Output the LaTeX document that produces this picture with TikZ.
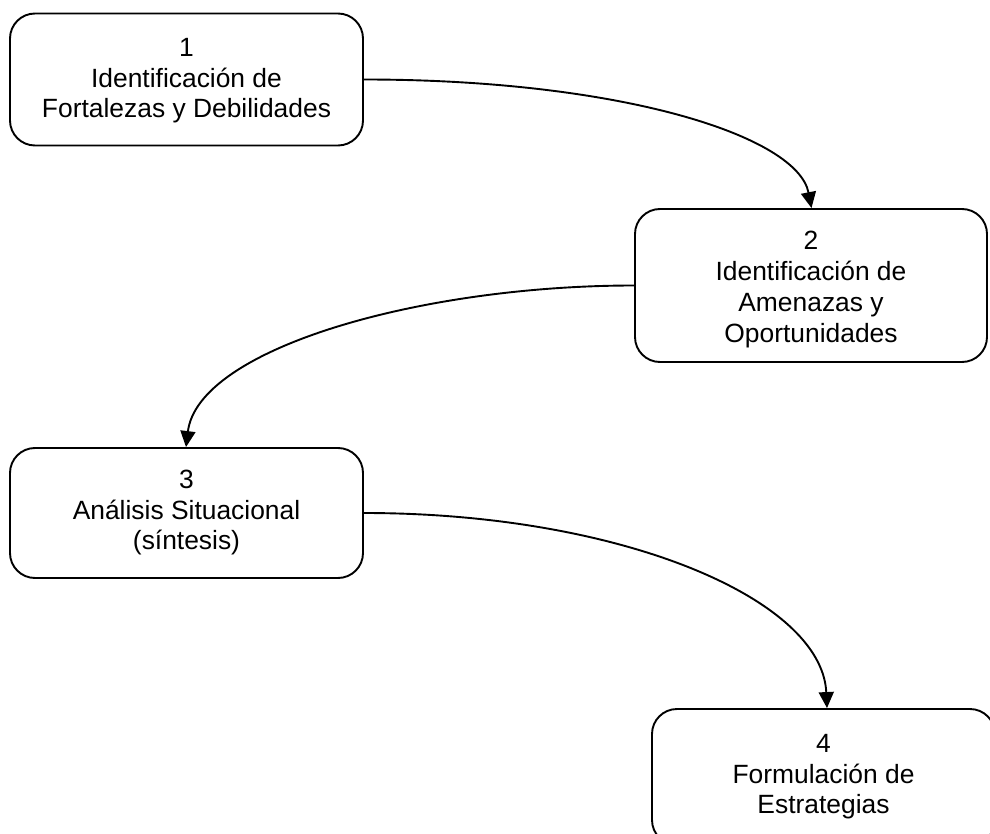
\documentclass[tikz,border=0pt]{standalone}
\usepackage{fontspec}
\setmainfont{Liberation Sans}
\usetikzlibrary{arrows.meta}
\begin{document}
\begin{tikzpicture}[x=1pt,y=-1pt,
  stagebox/.style={draw=black, line width=1.9pt, rounded corners=25pt, align=center,
    inner sep=0pt, font=\fontsize{26.4}{30.5}\selectfont},
  flow/.style={line width=1.9pt, -{Triangle[length=16pt,width=15pt]}}]
\useasboundingbox (0,0) rectangle (990,834);
\node[stagebox, minimum width=353pt, minimum height=132pt] (b1) at (186.5,79.5)
  {\rule{0pt}{21pt}1\\Identificación de\\Fortalezas y Debilidades};
\node[stagebox, minimum width=352pt, minimum height=153pt,
  font=\fontsize{26.4}{31}\selectfont] (b2) at (811,285.5)
  {\rule{0pt}{27pt}2\\Identificación de\\Amenazas y\\Oportunidades};
\node[stagebox, minimum width=353pt, minimum height=130pt] (b3) at (186.5,513)
  {3\\Análisis Situacional\\(síntesis)};
\node[stagebox, minimum width=343pt, minimum height=136pt] (b4) at (823.5,777)
  {4\\Formulación de\\Estrategias};
\draw[flow] (b1.east) .. controls +(257,0) and +(-14,-72) .. ([xshift=0.5pt]b2.north);
\draw[flow] (b2.west) .. controls +(-215,0) and +(12,-98) .. ([xshift=-0.5pt]b3.north);
\draw[flow] (b3.east) .. controls +(257,0) and +(-5,-109) .. ([xshift=3.5pt]b4.north);
\end{tikzpicture}
\end{document}
